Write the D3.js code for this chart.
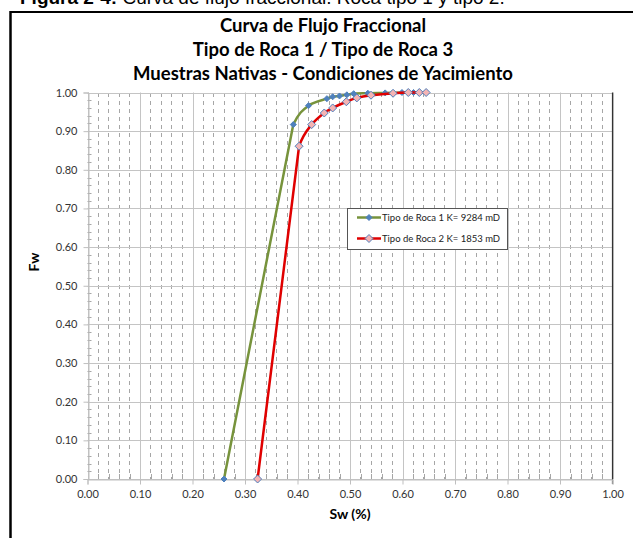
<!DOCTYPE html>
<html>
<head>
<meta charset="utf-8">
<script src="https://cdn.jsdelivr.net/npm/d3@7"></script>
<style>
  html, body { margin: 0; padding: 0; background: #fff; }
  svg { display: block; }
</style>
</head>
<body>
<svg id="chart" width="633" height="538"></svg>
<script>
// Fractional flow curves (Fw vs Sw) for two rock types
const seriesNames = ["Tipo de Roca 1 K= 9284 mD", "Tipo de Roca 2 K= 1853 mD"];
const sw1 = [0.260, 0.392, 0.421, 0.456, 0.467, 0.480, 0.494, 0.507, 0.534, 0.567, 0.599, 0.621];
const fw1 = [0.000, 0.917, 0.966, 0.984, 0.989, 0.991, 0.994, 0.997, 0.998, 0.999, 1.000, 1.000];
const sw2 = [0.324, 0.403, 0.427, 0.451, 0.467, 0.493, 0.513, 0.540, 0.582, 0.611, 0.632, 0.645];
const fw2 = [0.000, 0.861, 0.917, 0.947, 0.960, 0.976, 0.986, 0.993, 0.998, 1.000, 1.000, 1.000];
const xTicks = [0, 0.1, 0.2, 0.3, 0.4, 0.5, 0.6, 0.7, 0.8, 0.9, 1.0];
const yTicks = [0, 0.1, 0.2, 0.3, 0.4, 0.5, 0.6, 0.7, 0.8, 0.9, 1.0];
const titleLines = ["Curva de Flujo Fraccional", "Tipo de Roca 1 / Tipo de Roca 3", "Muestras Nativas - Condiciones de Yacimiento"];

const svg = d3.select("#chart");
const chartFont = "Lato, 'Open Sans', sans-serif";

const x = d3.scaleLinear().domain([0, 1]).range([87.5, 612.5]);
const y = d3.scaleLinear().domain([0, 1]).range([479, 92.5]);

// Caption of the figure (runs off the top edge of the page)
const cap = svg.append("text").attr("x", 20).attr("y", 4)
  .attr("font-family", "'Liberation Sans', Arial, sans-serif").attr("font-size", 19).attr("fill", "#000");
cap.append("tspan").attr("font-weight", "bold").text("Figura 2-4:");
cap.append("tspan").text(" Curva de flujo fraccional. Roca tipo 1 y tipo 2.");

// Outer frame
svg.append("line").attr("x1", 10).attr("x2", 633).attr("y1", 12).attr("y2", 12)
  .attr("stroke", "#000").attr("stroke-width", 2);
svg.append("line").attr("x1", 10.5).attr("x2", 10.5).attr("y1", 11).attr("y2", 538)
  .attr("stroke", "#000").attr("stroke-width", 2.5);

// Titles
svg.append("g").selectAll("text").data(titleLines).join("text")
  .attr("x", 323).attr("y", (d, i) => 32 + i * 24)
  .attr("text-anchor", "middle")
  .attr("font-family", chartFont).attr("font-weight", "bold").attr("font-size", 18.5)
  .attr("fill", "#000").text(d => d);

// Minor vertical dashed grid (every 0.02)
const minor = d3.range(0, 1.0001, 0.02).filter(v => Math.abs(v * 10 - Math.round(v * 10)) > 1e-6);
const grid = svg.append("g");
grid.selectAll("line.minor").data(minor).join("line")
  .attr("x1", d => x(d)).attr("x2", d => x(d))
  .attr("y1", y(1)).attr("y2", y(0))
  .attr("stroke", "#a6a6a6").attr("stroke-width", 1)
  .attr("stroke-dasharray", "4,4")
  .attr("shape-rendering", "crispEdges");

// Major grid
grid.selectAll("line.vx").data(xTicks).join("line")
  .attr("x1", d => Math.round(x(d)) + 0.5).attr("x2", d => Math.round(x(d)) + 0.5)
  .attr("y1", y(1)).attr("y2", y(0))
  .attr("stroke", "#c4c4c4").attr("stroke-width", 1);
grid.selectAll("line.hy").data(yTicks).join("line")
  .attr("class", "hy")
  .attr("x1", x(0)).attr("x2", x(1))
  .attr("y1", d => Math.round(y(d)) + 0.5).attr("y2", d => Math.round(y(d)) + 0.5)
  .attr("stroke", "#c4c4c4").attr("stroke-width", 1);

// Minor ticks on the axes (inward)
grid.selectAll("line.mty").data(minor).join("line")
  .attr("x1", x(0)).attr("x2", x(0) + 4)
  .attr("y1", d => Math.round(y(d)) + 0.5).attr("y2", d => Math.round(y(d)) + 0.5)
  .attr("stroke", "#a6a6a6");
grid.selectAll("line.mtx").data(minor).join("line")
  .attr("x1", d => Math.round(x(d)) + 0.5).attr("x2", d => Math.round(x(d)) + 0.5)
  .attr("y1", y(0)).attr("y2", y(0) - 5)
  .attr("stroke", "#a6a6a6");

// Right border of plot area
svg.append("line").attr("x1", 612.5).attr("x2", 612.5).attr("y1", y(1)).attr("y2", y(0) + 5)
  .attr("stroke", "#333").attr("stroke-width", 1.2);

// Axes
const xAxis = svg.append("g").attr("transform", `translate(0,${Math.round(y(0)) + 0.5})`)
  .call(d3.axisBottom(x).tickValues(xTicks).tickFormat(d3.format(".2f")).tickSize(5).tickPadding(6));
const yAxis = svg.append("g").attr("transform", `translate(${Math.round(x(0)) + 0.5},0)`)
  .call(d3.axisLeft(y).tickValues(yTicks).tickFormat(d3.format(".2f")).tickSize(5).tickPadding(6));
[xAxis, yAxis].forEach(a => {
  a.select(".domain").attr("stroke", "#bfbfbf");
  a.selectAll(".tick line").attr("stroke", "#bfbfbf");
  a.selectAll(".tick text").attr("font-family", chartFont).attr("font-size", 11).attr("fill", "#333");
});

// Axis titles
svg.append("text").attr("x", 350).attr("y", 519).attr("text-anchor", "middle")
  .attr("font-family", chartFont).attr("font-weight", "bold").attr("font-size", 14)
  .text("Sw (%)");
svg.append("text").attr("transform", "translate(39,262) rotate(-90)").attr("text-anchor", "middle")
  .attr("font-family", chartFont).attr("font-weight", "bold").attr("font-size", 14)
  .text("Fw");

// Series: straight rise from breakthrough to the first point, smooth spline afterwards
const series = [
  { name: seriesNames[0], sw: sw1, fw: fw1, color: "#77933c", mFill: "#4f81bd", mStroke: "#4f81bd", mSize: 3 },
  { name: seriesNames[1], sw: sw2, fw: fw2, color: "#e00000", mFill: "#f4b4b4", mStroke: "#4f81bd", mSize: 4 }
];
const smooth = d3.line().x(d => x(d[0])).y(d => y(d[1])).curve(d3.curveCatmullRom.alpha(0.5));
const diamond = (cx, cy, r) => `M${cx},${cy - r}L${cx + r},${cy}L${cx},${cy + r}L${cx - r},${cy}Z`;

function curvePath(pts) {
  const parts = smooth(pts).split("C");
  const firstSeg = parts[1].split(",");
  const end = firstSeg.slice(-2).join(",");
  return parts[0] + "L" + end + (parts.length > 2 ? "C" + parts.slice(2).join("C") : "");
}

series.forEach(s => {
  const pts = s.sw.map((v, i) => [v, s.fw[i]]);
  svg.append("path").attr("d", curvePath(pts))
    .attr("fill", "none").attr("stroke", s.color).attr("stroke-width", 2.5)
    .attr("stroke-linejoin", "round");
  svg.append("g").selectAll("path").data(pts).join("path")
    .attr("d", d => diamond(x(d[0]), y(d[1]), s.mSize))
    .attr("fill", s.mFill).attr("stroke", s.mStroke).attr("stroke-width", 1);
});

// Legend
const lg = svg.append("g");
lg.append("rect").attr("x", 347.5).attr("y", 208.5).attr("width", 160).attr("height", 41)
  .attr("fill", "#fff").attr("stroke", "#555").attr("stroke-width", 1);
series.forEach((s, i) => {
  const ly = 217.5 + i * 21;
  lg.append("line").attr("x1", 357).attr("x2", 381).attr("y1", ly).attr("y2", ly)
    .attr("stroke", s.color).attr("stroke-width", 2.5);
  lg.append("path").attr("d", diamond(369, ly, s.mSize))
    .attr("fill", s.mFill).attr("stroke", s.mStroke).attr("stroke-width", 1);
  lg.append("text").attr("x", 382).attr("y", ly + 3.5)
    .attr("font-family", chartFont).attr("font-size", 9.5).attr("fill", "#222")
    .text(s.name);
});
</script>
</body>
</html>
